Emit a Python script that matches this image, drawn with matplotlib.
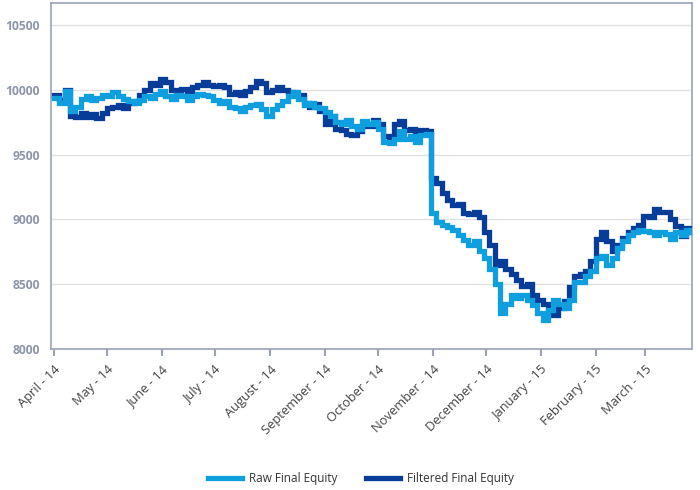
import pandas as pd
import matplotlib.pyplot as plt
import matplotlib.dates as mdates

plt.rcParams["font.family"] = ["Open Sans", "DejaVu Sans"]

# %%
# equity values every 3 days, 2014-04-01 .. 2015-03-27
dates = pd.date_range("2014-04-01", periods=121, freq="3D")

raw_equity = [
    9940, 9900, 9990, 9840, 9870, 9930, 9950, 9920, 9940, 9960,
    9950, 9980, 9950, 9930, 9910, 9900, 9920, 9950, 9940, 9970,
    9990, 9950, 9930, 9960, 9950, 9920, 9950, 9970, 9960, 9950,
    9920, 9900, 9910, 9870, 9860, 9840, 9870, 9880, 9890, 9850,
    9800, 9850, 9880, 9910, 9950, 9980, 9930, 9880, 9900, 9870,
    9860, 9830, 9800, 9750, 9740, 9770, 9720, 9700, 9760, 9740,
    9750, 9700, 9600, 9590, 9620, 9680, 9620, 9640, 9600, 9650,
    9660, 9050, 8980, 8960, 8940, 8920, 8880, 8840, 8800, 8830,
    8760, 8700, 8620, 8500, 8280, 8350, 8420, 8390, 8420, 8380,
    8340, 8280, 8220, 8300, 8380, 8350, 8320, 8380, 8520, 8520,
    8560, 8600, 8700, 8720, 8650, 8700, 8780, 8830, 8880, 8900,
    8920, 8910, 8900, 8880, 8900, 8890, 8850, 8900, 8880, 8920,
    8900,
]

filtered_equity = [
    9960, 9920, 10000, 9800, 9790, 9820, 9790, 9810, 9780, 9820,
    9860, 9870, 9880, 9860, 9900, 9910, 9960, 10000, 10050, 10040,
    10080, 10060, 10000, 9990, 10010, 9980, 10020, 10040, 10060, 10040,
    10030, 10040, 10020, 9970, 9980, 9960, 9990, 10020, 10070, 10050,
    9980, 10000, 10020, 10000, 9980, 9960, 9960, 9900, 9870, 9890,
    9840, 9740, 9800, 9700, 9690, 9660, 9650, 9680, 9720, 9720,
    9770, 9740, 9640, 9630, 9740, 9760, 9690, 9700, 9660, 9690,
    9680, 9320, 9280, 9200, 9150, 9110, 9120, 9050, 9040, 9060,
    9020, 8900, 8800, 8650, 8680, 8620, 8580, 8530, 8490, 8500,
    8420, 8380, 8350, 8300, 8260, 8320, 8370, 8480, 8560, 8580,
    8600, 8680, 8850, 8900, 8830, 8760, 8800, 8860, 8900, 8930,
    8960, 9030, 9020, 9080, 9060, 9060, 9000, 8950, 8870, 8930,
    8900,
]

y_ticks = [8000, 8500, 9000, 9500, 10000, 10500]

# %%
raw_color = "#0f9fdf"
filt_color = "#073c98"
axis_color = "#9aa3b5"

fig = plt.figure(figsize=(7, 4.9), dpi=100)
ax = fig.add_axes([51 / 700, 1 - 349 / 490, 641 / 700, 346 / 490])

ax.plot(dates, filtered_equity, drawstyle="steps-post", color=filt_color,
        lw=3.8, solid_joinstyle="miter", label="Filtered Final Equity", zorder=3)
ax.plot(dates, raw_equity, drawstyle="steps-post", color=raw_color,
        lw=3.8, solid_joinstyle="miter", label="Raw Final Equity", zorder=4)

ax.set_ylim(8000, 10670)
ax.set_yticks(y_ticks)
ax.set_xlim(pd.Timestamp("2014-03-30 08:00"), pd.Timestamp("2015-03-27 10:00"))

ax.xaxis.set_major_locator(mdates.MonthLocator())
ax.xaxis.set_major_formatter(mdates.DateFormatter("%B - %y"))
for lbl in ax.get_xticklabels():
    lbl.set_rotation(45)
    lbl.set_ha("right")
    lbl.set_rotation_mode("anchor")

ax.grid(axis="y", color="#e2e2e2", lw=1)
ax.set_axisbelow(True)
for side in ax.spines.values():
    side.set_color(axis_color)
    side.set_linewidth(1.2)

ax.tick_params(axis="x", colors=axis_color, length=5, width=1.5, pad=5,
               labelcolor="#444444", labelsize=9.3)
ax.tick_params(axis="y", length=0, pad=8, labelcolor="#8d96aa", labelsize=8.7)
for lbl in ax.get_yticklabels():
    lbl.set_fontweight("bold")

handles, labels = ax.get_legend_handles_labels()
fig.legend(handles[::-1], labels[::-1], loc="center", bbox_to_anchor=(0.516, 0.024),
           ncol=2, frameon=False, fontsize=8.5, handlelength=2.9, columnspacing=2.4,
           handletextpad=0.6, labelcolor="#333333")

fig.savefig("out.png", dpi=100)
